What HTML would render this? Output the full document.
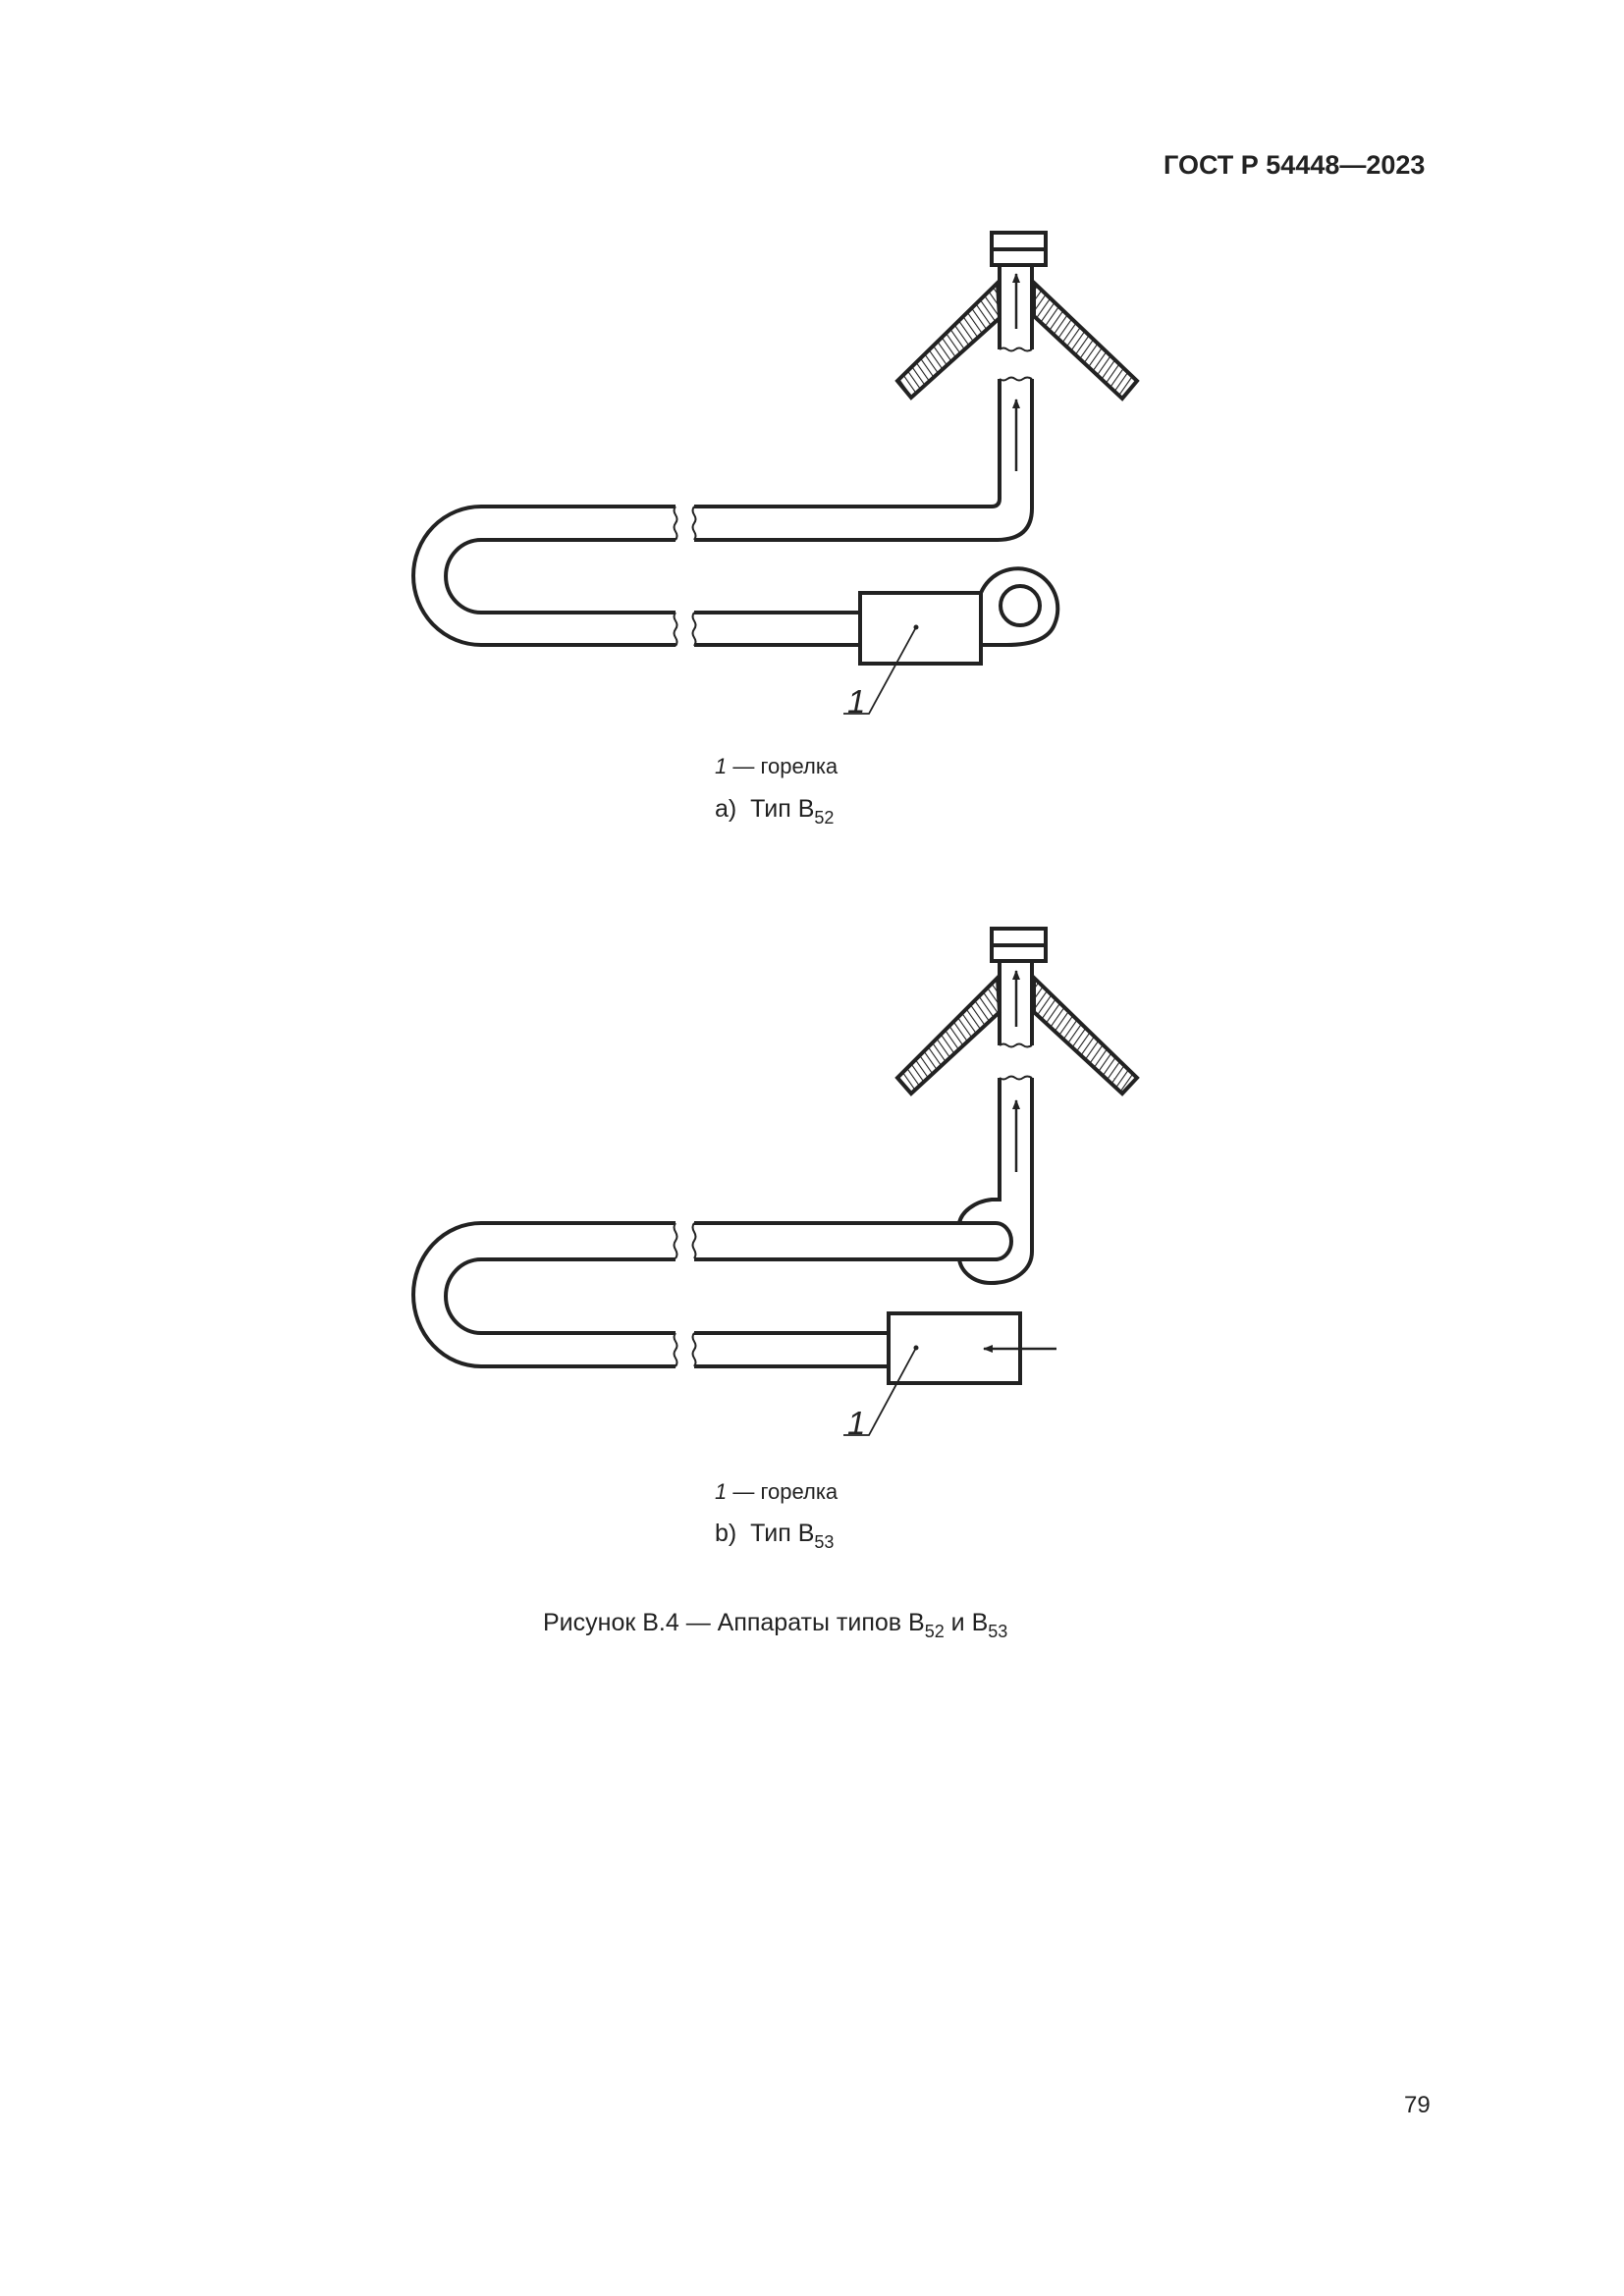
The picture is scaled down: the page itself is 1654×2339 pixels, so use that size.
<!DOCTYPE html>
<html><head><meta charset="utf-8"><style>
html,body{margin:0;padding:0;background:#fff;}
body{width:1654px;height:2339px;position:relative;overflow:hidden;}
</style></head><body>
<svg width="1654" height="2339" style="position:absolute;left:0;top:0" xmlns="http://www.w3.org/2000/svg" font-family="Liberation Sans, Arial, sans-serif">
<defs>
<pattern id="hl" patternUnits="userSpaceOnUse" width="6" height="6" patternTransform="rotate(-35)"><line x1="0" y1="0" x2="0" y2="6" stroke="#222" stroke-width="2.2"/></pattern>
<pattern id="hr" patternUnits="userSpaceOnUse" width="6" height="6" patternTransform="rotate(35)"><line x1="0" y1="0" x2="0" y2="6" stroke="#222" stroke-width="2.2"/></pattern>
<marker id="ar" markerWidth="10" markerHeight="16" refX="9" refY="4" orient="auto" markerUnits="userSpaceOnUse" viewBox="0 0 10 8"><path d="M0,0 L10,4 L0,8 z" fill="#222"/></marker>
</defs>
<text x="1185" y="177" font-size="27" font-weight="bold" fill="#222">ГОСТ Р 54448—2023</text>
<g fill="none" stroke="#222" stroke-width="4">
<!-- ===== Diagram A ===== -->
<rect x="1010" y="237" width="55" height="33" fill="#fff"/>
<line x1="1010" y1="254" x2="1065" y2="254"/>
<path d="M1018,270 L1018,356 M1051,270 L1051,356"/>
<path d="M1018,356 q4,-3 8,0 t8,0 t8,0 t9,0" stroke-width="2"/>
<polygon points="1016,288 914,388 928,405 1018,324" fill="url(#hl)"/>
<polygon points="1053,288 1158,388 1143,406 1053,322" fill="url(#hr)"/>
<line x1="1035" y1="335" x2="1035" y2="279" stroke-width="2.5" marker-end="url(#ar)"/>
<line x1="1035" y1="480" x2="1035" y2="407" stroke-width="2.5" marker-end="url(#ar)"/>
<path d="M1018,386 q4,3 8,0 t8,0 t8,0 t9,0" stroke-width="2"/>
<path d="M1018,386 L1018,508 Q1018,516 1010,516 L707,516"/>
<path d="M1051,386 L1051,518 Q1051,550 1015,550 L707,550"/>
<path d="M688,516 L490,516 A69,70.5 0 0 0 490,657 L688,657"/>
<path d="M688,550 L490,550 A36,37 0 0 0 490,624 L688,624"/>
<path d="M688,516 q-3,4 0,8.5 t0,8.5 t0,8.5 t0,8.5 M707,516 q-3,4 0,8.5 t0,8.5 t0,8.5 t0,8.5" stroke-width="2"/>
<path d="M688,624 q-3,4 0,8.5 t0,8.5 t0,8.5 t0,8.5 M707,624 q-3,4 0,8.5 t0,8.5 t0,8.5 t0,8.5" stroke-width="2"/>
<path d="M707,624 L876,624 M707,657 L876,657"/>
<path d="M999,604 A40,40 0 1 1 1074,636 Q1066,657 1025,657 L999,657"/>
<circle cx="1039" cy="617" r="20"/>
<rect x="876" y="604" width="123" height="72" fill="#fff"/>
<circle cx="933" cy="639" r="2" fill="#222" stroke-width="1"/>
<path d="M933,639 L885,727 L859,727" stroke-width="1.8"/>
<!-- ===== Diagram B ===== -->
<rect x="1010" y="946" width="55" height="33" fill="#fff"/>
<line x1="1010" y1="963" x2="1065" y2="963"/>
<path d="M1018,979 L1018,1065 M1051,979 L1051,1065"/>
<path d="M1018,1065 q4,-3 8,0 t8,0 t8,0 t9,0" stroke-width="2"/>
<polygon points="1016,996 914,1098 928,1114 1018,1031" fill="url(#hl)"/>
<polygon points="1053,996 1158,1098 1143,1114 1053,1031" fill="url(#hr)"/>
<line x1="1035" y1="1046" x2="1035" y2="989" stroke-width="2.5" marker-end="url(#ar)"/>
<line x1="1035" y1="1194" x2="1035" y2="1121" stroke-width="2.5" marker-end="url(#ar)"/>
<path d="M1018,1098 q4,3 8,0 t8,0 t8,0 t9,0" stroke-width="2"/>
<path d="M1018,1098 L1018,1222 L1010,1222 C992,1224 979,1235 977,1246"/>
<path d="M977,1283 C979,1296 992,1307 1009,1307 C1036,1307 1051,1292 1051,1275 L1051,1098"/>
<path d="M707,1246 L1014,1246 A16,18.5 0 0 1 1014,1283 L707,1283"/>
<path d="M688,1246 L490,1246 A69,73 0 0 0 490,1392 L688,1392"/>
<path d="M688,1283 L490,1283 A36,37.5 0 0 0 490,1358 L688,1358"/>
<path d="M688,1246 q-3,4 0,9 t0,9 t0,9 t0,9 M707,1246 q-3,4 0,9 t0,9 t0,9 t0,9" stroke-width="2"/>
<path d="M688,1358 q-3,4 0,8.5 t0,8.5 t0,8.5 t0,8.5 M707,1358 q-3,4 0,8.5 t0,8.5 t0,8.5 t0,8.5" stroke-width="2"/>
<path d="M707,1358 L905,1358 M707,1392 L905,1392"/>
<rect x="905" y="1338" width="134" height="71" fill="#fff"/>
<circle cx="933" cy="1373" r="2" fill="#222" stroke-width="1"/>
<line x1="1076" y1="1374" x2="1002" y2="1374" stroke-width="2.5" marker-end="url(#ar)"/>
<path d="M933,1373 L885,1462 L859,1462" stroke-width="1.8"/>
</g>
<g fill="#222">
<text x="863" y="726" font-size="33" font-style="italic">1</text>
<text x="863" y="1461" font-size="33" font-style="italic">1</text>
<text x="728" y="788" font-size="22"><tspan font-style="italic">1</tspan> — горелка</text>
<text x="728" y="832" font-size="25">а)&#160; Тип B<tspan font-size="18" dy="7">52</tspan></text>
<text x="728" y="1527" font-size="22"><tspan font-style="italic">1</tspan> — горелка</text>
<text x="728" y="1570" font-size="25">b)&#160; Тип B<tspan font-size="18" dy="7">53</tspan></text>
<text x="553" y="1661" font-size="25">Рисунок В.4 — Аппараты типов B<tspan font-size="18" dy="7">52</tspan><tspan dy="-7"> и B</tspan><tspan font-size="18" dy="7">53</tspan></text>
<text x="1430" y="2152" font-size="24">79</text>
</g>
</svg>
</body></html>
